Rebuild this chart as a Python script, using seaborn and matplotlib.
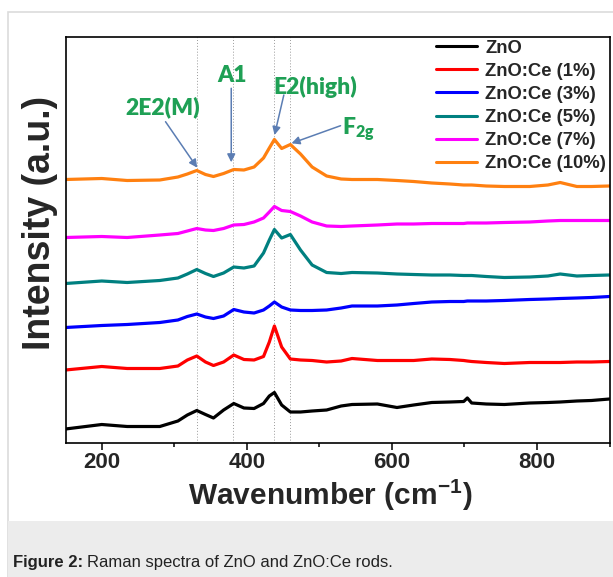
import pandas as pd
import matplotlib.pyplot as plt
import seaborn as sns
from matplotlib.patches import Rectangle
from matplotlib.ticker import MultipleLocator

# wavenumber grid (cm-1) and spectra (stacked, arbitrary units)
wavenumber = [150, 200, 235, 280, 305, 318, 331, 343, 354, 368, 382, 396, 410,
              423, 431, 438, 448, 460, 474, 490, 510, 530, 545, 580, 607, 630,
              655, 680, 699, 704, 710, 730, 755, 790, 815, 832, 855, 875, 900]

zno = [13.5, 18, 16, 16, 21.5, 27.5, 32, 28, 24.5, 32.5, 39, 34.5, 34,
       39, 46.5, 50, 37.5, 30.5, 30.5, 31.5, 32.5, 36.5, 38, 38.5, 35, 37.5,
       40, 40.5, 41, 44.5, 39.5, 38.5, 38, 39.5, 40, 40.5, 41.5, 42, 43.5]
ce1 = [72.5, 76, 74, 74, 76.5, 82.5, 86.5, 80.5, 77, 80.5, 87.5, 83, 82.5,
       86, 100.5, 116.5, 95.5, 83.5, 82.5, 82, 80.5, 81.5, 84, 82, 82, 82,
       83.5, 83, 82, 81.5, 81, 80, 79, 80, 80, 80, 80.5, 80.5, 81]
ce3 = [115, 117, 118, 120, 122.5, 126, 128.5, 125.5, 124, 126.5, 133, 130.5, 129.5,
       132.5, 136.5, 140.5, 135.5, 132.5, 132, 132, 132.5, 134.5, 136.5, 136.5, 137.5, 139,
       140.5, 141, 141, 141.5, 141.5, 141.5, 142, 143, 143.5, 144, 144.5, 145, 146]
ce5 = [159, 161.5, 160, 162, 164.5, 168.5, 173, 169, 166, 169.5, 175.5, 174.5, 176.5,
       189.5, 202.5, 213, 204.5, 208, 192.5, 177.5, 170, 169, 170, 169.5, 168.5, 168,
       167.5, 167.5, 167, 167, 167, 166, 165, 165.5, 166.5, 168.5, 166.5, 167, 167.5]
ce7 = [205, 206, 205, 207.5, 209, 211.5, 214, 212.5, 212, 214, 217.5, 218, 220.5,
       224.5, 230.5, 236, 232, 231, 226.5, 220.5, 216.5, 216, 216.5, 217.5, 218.5, 218.5,
       219, 219, 219, 219.5, 219.5, 219.5, 220, 220.5, 221.5, 222, 222, 222, 222]
ce10 = [263, 264, 262, 262.5, 265.5, 268.5, 272, 268, 266, 269, 273, 272.5, 275.5,
        284.5, 294.5, 303, 294, 298, 288.5, 275.5, 266.5, 263.5, 263, 263, 262, 261,
        259.5, 258.5, 257.5, 257.5, 257.5, 256.5, 256, 256, 257.5, 260, 256, 256, 256.5]

labels = ["ZnO", "ZnO:Ce (1%)", "ZnO:Ce (3%)", "ZnO:Ce (5%)", "ZnO:Ce (7%)", "ZnO:Ce (10%)"]
colors = ["#000000", "#ff0000", "#0000ff", "#008080", "#ff00ff", "#ff8010"]
mode_positions = [331, 381, 438, 460]

# long-form table for seaborn
series = [zno, ce1, ce3, ce5, ce7, ce10]
frames = []
for name, vals in zip(labels, series):
    frames.append(pd.DataFrame({"Wavenumber": wavenumber, "Intensity": vals, "Sample": name}))
df = pd.concat(frames, ignore_index=True)

sns.set_style("ticks")
plt.rcParams['font.family'] = ['Liberation Sans', 'DejaVu Sans']
plt.rcParams['mathtext.fontset'] = 'custom'
plt.rcParams['mathtext.rm'] = 'Liberation Sans'
plt.rcParams['mathtext.bf'] = 'Lato:heavy'

fig = plt.figure(figsize=(6.13, 5.77), dpi=100)

# page frame and caption box (behind the axes)
fig.add_artist(Rectangle((8 / 613, 0), 1, 1 - 12 / 577, transform=fig.transFigure,
                         facecolor="white", edgecolor="#dcdcdc", lw=1.2, zorder=-10))
fig.add_artist(Rectangle((8 / 613, 0), 1, 56 / 577, transform=fig.transFigure,
                         facecolor="#ececec", edgecolor="none", zorder=-9))

ax = fig.add_axes([65.5 / 613, 1 - 442.5 / 577, 544 / 613, 406 / 577])
ax.set_facecolor("white")

for w in mode_positions:
    ax.axvline(w, color="#9a9a9a", lw=0.7, ls=(0, (1, 2)), zorder=0)

sns.lineplot(data=df, x="Wavenumber", y="Intensity", hue="Sample", hue_order=labels,
             palette=colors, lw=2.3, errorbar=None, ax=ax)

ax.set_xlim(150, 900)
ax.set_ylim(0, 406)
ax.set_yticks([])
ax.xaxis.set_major_locator(MultipleLocator(200))
ax.xaxis.set_minor_locator(MultipleLocator(100))
ax.tick_params(axis="x", which="major", length=5, width=1.1, pad=2, labelsize=16, color="black")
ax.tick_params(axis="x", which="minor", length=3, width=1.1, color="black")
for lab in ax.get_xticklabels():
    lab.set_fontweight("bold")
for sp in ax.spines.values():
    sp.set_visible(True)
    sp.set_color("black")
    sp.set_linewidth(1.2)

ax.set_xlabel(r"Wavenumber (cm$^{\mathregular{-1}}$)", fontsize=21.5, fontweight="bold")
ax.xaxis.set_label_coords(0.486, -0.085)
ax.set_ylabel("Intensity (a.u.)", fontsize=27, fontweight="bold")
ax.yaxis.set_label_coords(-0.014, 0.54)

leg = ax.legend(loc="upper right", bbox_to_anchor=(0.994, 0.992), frameon=False,
                prop={"weight": "bold", "size": 13.3}, handlelength=2.2,
                handletextpad=0.45, labelspacing=0.33, borderaxespad=0, borderpad=0)
for h in leg.get_lines():
    h.set_linewidth(2.2)

# peak annotations
green = "#1fa055"
arrow_col = "#5b7db3"
akw = dict(arrowstyle="-|>", color=arrow_col, lw=1.1, mutation_scale=12, shrinkA=0, shrinkB=0)
tkw = dict(color=green, fontsize=16.5, fontweight="heavy", family="Lato", ha="center", va="center")

ax.text(283.7, 335.5, "2E2(M)", **tkw)
ax.annotate("", xy=(331.6, 274.8), xytext=(287.9, 320.8), arrowprops=akw)
ax.text(379.8, 367.5, "A1", **tkw)
ax.annotate("", xy=(378.5, 280.2), xytext=(378.5, 354.2), arrowprops=akw)
ax.text(494.7, 355.8, "E2(high)", **tkw)
ax.annotate("", xy=(438.2, 307.5), xytext=(451, 347.5), arrowprops=akw)
ax.text(531.5, 312.5, r"F$_{\mathbf{2g}}$", color=green, fontsize=16.5, fontweight="heavy",
        family="Lato", ha="left", va="center")
ax.annotate("", xy=(461.6, 299.2), xytext=(529.2, 316.8), arrowprops=akw)

# caption
cap1 = fig.text(13 / 613, 1 - 563 / 577, "Figure 2:", fontsize=12, fontweight="bold",
                va="center", ha="left", color="#222222")
fig.canvas.draw()
x_end = cap1.get_window_extent(fig.canvas.get_renderer()).x1 / fig.bbox.width
fig.text(x_end + 4 / 613, 1 - 563 / 577, "Raman spectra of ZnO and ZnO:Ce rods.",
         fontsize=12, va="center", ha="left", color="#222222")

fig.savefig("out.png", dpi=100)
